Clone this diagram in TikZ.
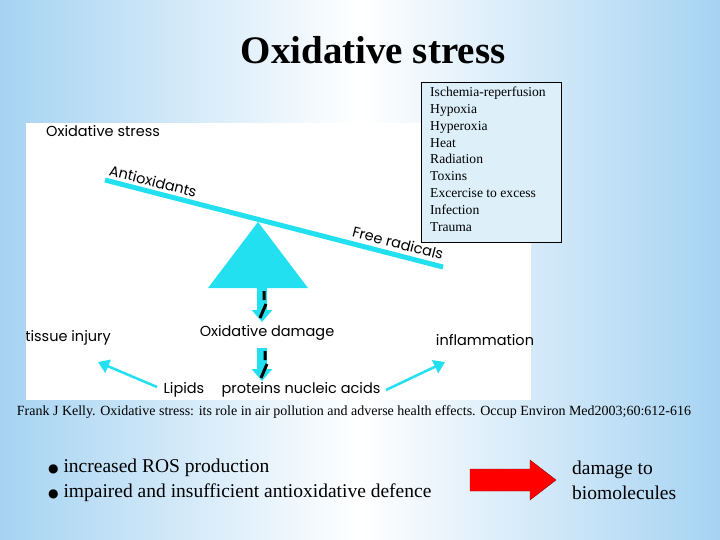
\documentclass[tikz,border=0pt]{standalone}
\usepackage{fontspec}
\setmainfont{Liberation Serif}
\newfontfamily\sfx{Poppins}
\newfontfamily\djvfont{DejaVu Sans}
\usetikzlibrary{arrows.meta}
\definecolor{cy}{HTML}{22E0F0}
\definecolor{bgb}{HTML}{A6D3F2}
\definecolor{boxb}{HTML}{DDF0FA}
\tikzset{lbl/.style={font=\sfx\fontsize{14.5}{16}\selectfont,inner sep=0pt},
 cyarr/.style={cy,line width=2.5pt,-{Triangle[length=11pt,width=14pt]}},
 serif/.style={inner sep=0pt}}
\newcommand{\bdot}{{\djvfont\fontsize{12}{12}\selectfont ●}}
\begin{document}
\begin{tikzpicture}[x=1pt,y=-1pt]
\useasboundingbox (0,0) rectangle (720,540);
\shade[left color=bgb,right color=bgb,middle color=white] (0,0) rectangle (720,540);
\node[serif,font=\bfseries\fontsize{39}{42}\selectfont] (title) at (373,50) {Oxidative stress};
\fill[white] (26,123) rectangle (531,400);
\node[lbl,anchor=west] (os) at (46,131) {Oxidative stress};
\coordinate (bl) at (105,180); \coordinate (br) at (443,267);
\draw[cy,line width=5pt] (bl) -- (br);
\fill[cy] (258,222) -- (308,288) -- (208,288) -- cycle;
\node[lbl,rotate=-14.4] (anti) at (153,181) {Antioxidants};
\node[lbl,rotate=-14.4] (free) at (398,243) {Free radicals};
\node[lbl] (od) at (267,333) {Oxidative damage};
\node[lbl] (lip) at (184,390) {Lipids};
\node[lbl] (prot) at (301,390) {proteins nucleic acids};
\begin{scope}
\clip (26,123) rectangle (531,400);
\node[lbl] (tis) at (68,338) {tissue injury};
\end{scope}
\node[lbl] (inf) at (485,340) {inflammation};
\draw[cy,line width=10pt,-{Triangle[length=12pt,width=20pt]}] (262,288) -- (262,322);
\draw[cy,line width=10pt,-{Triangle[length=12pt,width=20pt]}] (262,348) -- (262,381);
\draw[black,line width=3pt] (264,291) -- (264,300) (260,318) -- (266,304);
\draw[black,line width=3pt] (265,351) -- (265,360) (261,378) -- (267,364);
\draw[cyarr] (157,387) -- (98,362);
\draw[cyarr] (386,390) -- (445,362);
\node[draw=black,fill=boxb,line width=0.8pt,minimum width=140pt,minimum height=160pt,anchor=north west] (box) at (421,82) {};
\node[anchor=north west,align=left,font=\fontsize{13.6}{16.8}\selectfont,inner sep=0pt] (list) at (430,87) {Ischemia-reperfusion\\Hypoxia\\Hyperoxia\\Heat\\Radiation\\Toxins\\Excercise to excess\\Infection\\Trauma};
\node[serif,font=\fontsize{14}{16}\selectfont] (cite) at (354,412) {Frank J Kelly. Oxidative stress: its role in air pollution and adverse health effects. Occup Environ Med2003;60:612-616};
\node[serif,anchor=west,align=left,font=\fontsize{19.5}{25}\selectfont] (bul) at (48,480) {\bdot{} increased ROS production\\\bdot{} impaired and insufficient antioxidative defence};
\fill[red,draw=red!60!black] (470,469) -- (530,469) -- (530,460) -- (556,480) -- (530,500) -- (530,491) -- (470,491) -- cycle;
\node[serif,anchor=west,align=left,font=\fontsize{19.5}{25}\selectfont] (dmg) at (572,480) {damage to\\biomolecules};
\end{tikzpicture}
\end{document}
